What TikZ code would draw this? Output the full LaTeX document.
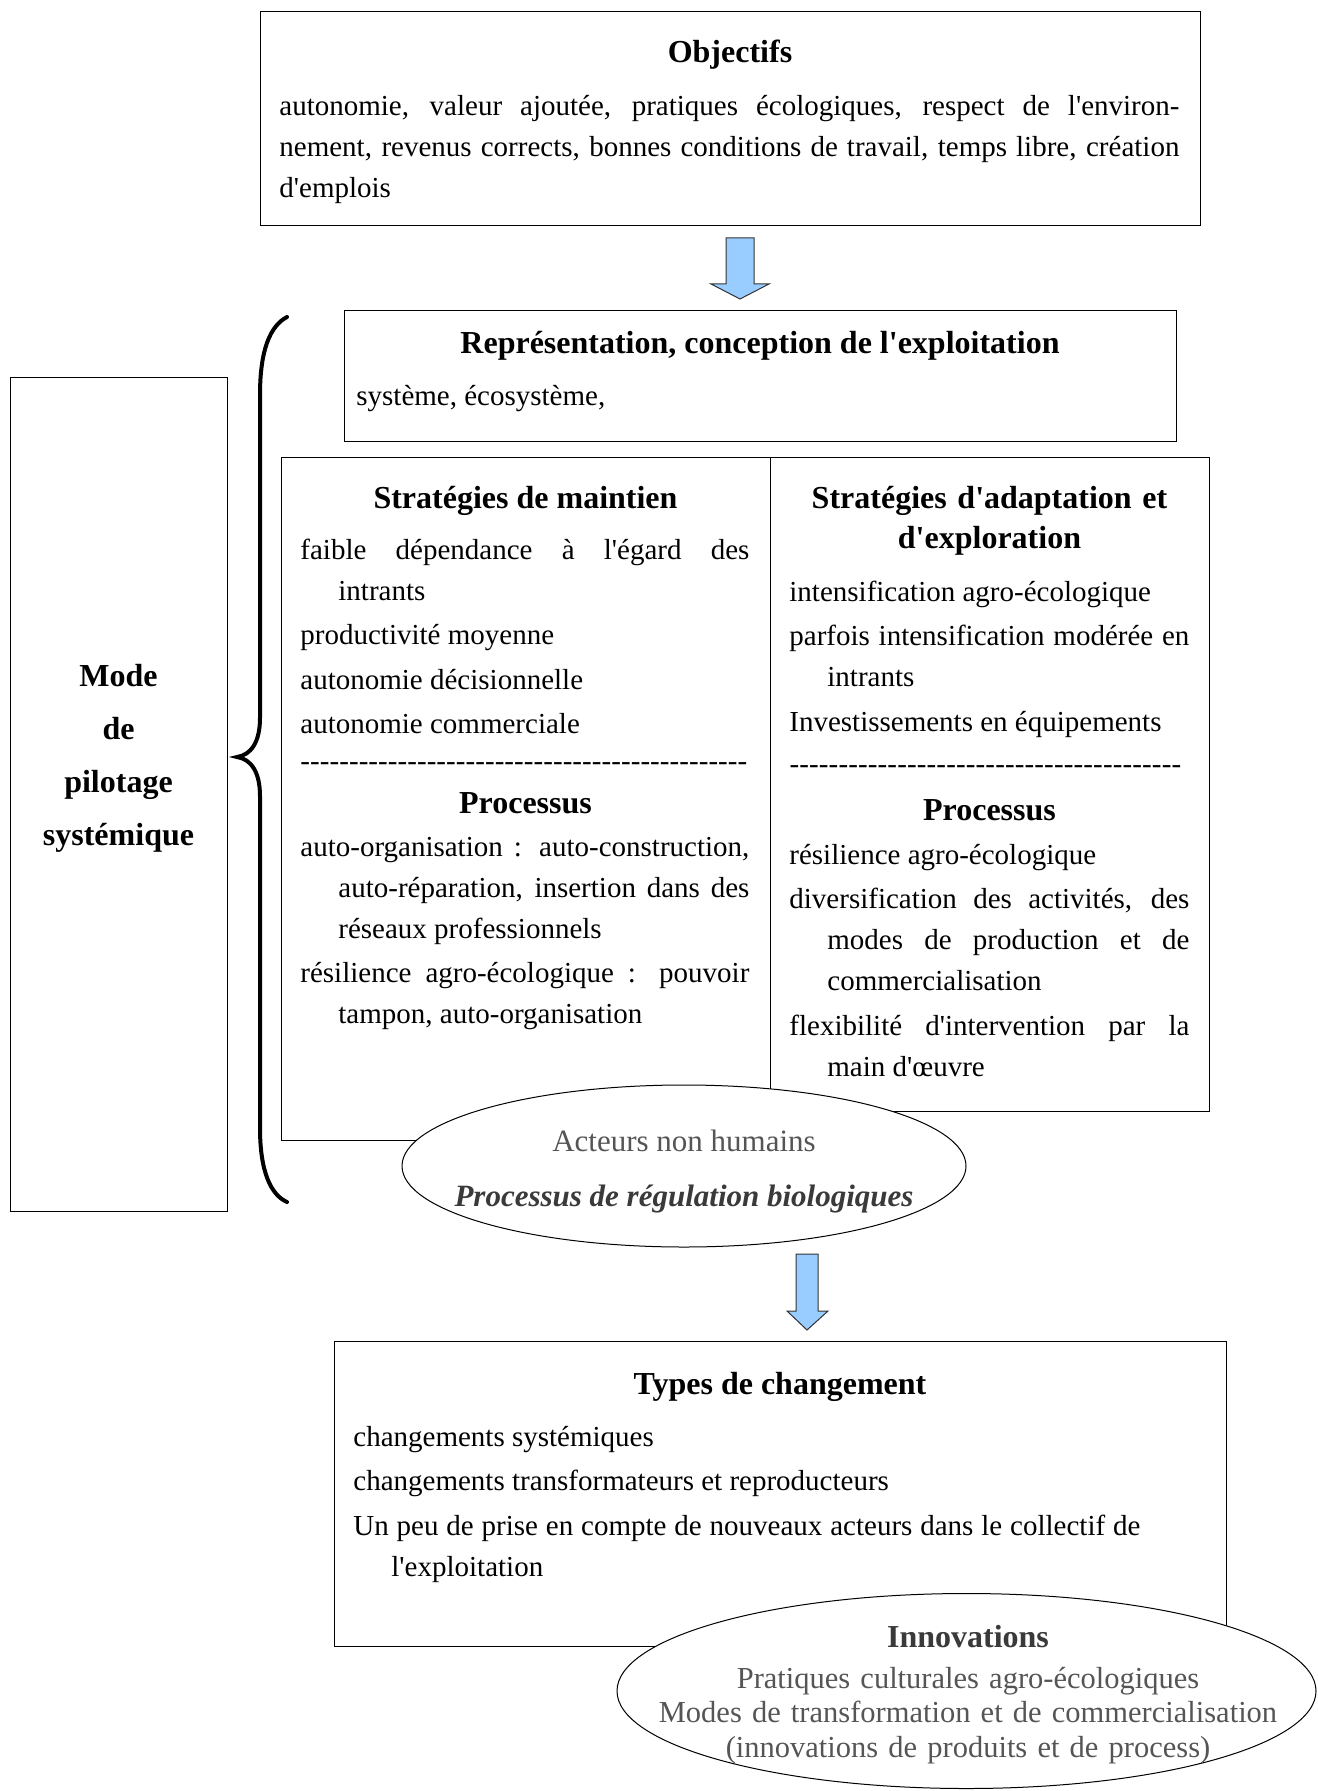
\documentclass[tikz,border=0pt]{standalone}
\usepackage{fontspec}
\newfontfamily\tnr{Liberation Serif}
\usetikzlibrary{shapes.geometric}

\definecolor{arrowblue}{HTML}{99CCFF}
\definecolor{arrowedge}{HTML}{333333}
\definecolor{midgray}{HTML}{555555}
\definecolor{inkgray}{HTML}{3A3A3A}

% one list entry: later lines hang under the first
\newcommand\pitem[1]{\hangindent=19pt\hangafter=1 #1\par}
% a row of hyphens filling a given width
\newcommand\hyphenrow[1]{\hbox to #1{\xleaders\hbox{-}\hfill}}

\tikzset{
  box/.style={draw=black, line width=0.65pt, inner sep=0pt, anchor=north west},
  oval/.style={ellipse, draw=black, line width=0.5pt, fill=white, inner sep=0pt},
  ttl/.style={font=\tnr\fontsize{16}{20}\selectfont\bfseries, inner sep=0pt, anchor=base},
  line/.style={font=\tnr\fontsize{14.5}{20.5}\selectfont, inner sep=0pt, anchor=base west},
  body/.style={line, align=justify,
    execute at begin node={\setlength{\parskip}{1.75pt}\hyphenpenalty=10000
      \exhyphenpenalty=10000 \tolerance=10000 \hbadness=10000 \relax}},
  ovaltext/.style={font=\tnr\fontsize{15.5}{18}\selectfont, inner sep=0pt, anchor=base},
  blockarrow/.style={fill=arrowblue, draw=arrowedge, line width=0.5pt, line join=miter},
  brace/.style={draw=black, line width=2pt, line cap=round},
}

\begin{document}
\begin{tikzpicture}[x=0.5pt, y=-0.5pt]
\useasboundingbox (0,0) rectangle (1317,1791);

% ---------- objectives ----------
\node[box, minimum width=470pt, minimum height=107pt] (obj) at (260,11) {};
\node[ttl] (objT) at (730,63) {Objectifs};
\node[body, text width=450pt] (objB) at (279,116)
  {autonomie, valeur ajoutée, pratiques écologiques, respect de l'environ-\linebreak
   nement, revenus corrects, bonnes conditions de travail, temps libre, création\linebreak
   d'emplois};

% arrow down to the representation box
\draw[blockarrow] (726,238) -- (754,238) -- (754,284) -- (769,284) -- (740,299)
  -- (711,284) -- (726,284) -- cycle;

% ---------- representation ----------
\node[box, minimum width=416pt, minimum height=65.5pt] (rep) at (344,310) {};
\node[ttl] (repT) at (760,354) {Représentation, conception de l'exploitation};
\node[line] (repB) at (356,406) {système, écosystème,};

% ---------- steering mode ----------
\node[box, minimum width=108.5pt, minimum height=417pt] (mode) at (10,377) {};
\node[ttl, text width=100pt, align=center, font=\tnr\fontsize{16}{26.5}\selectfont\bfseries]
  (modeT) at (118.5,686) {Mode\\de\\pilotage\\systémique};

% curly brace
\draw[brace] (287,317) .. controls (270,326) and (260,350) .. (260,395)
  -- (260,718) .. controls (260,742) and (251,755) .. (237,757)
  .. controls (251,759) and (260,772) .. (260,796)
  -- (260,1128) .. controls (260,1172) and (271,1195) .. (287,1202);

% ---------- strategies ----------
\node[box, minimum width=244.5pt, minimum height=341.5pt] (maint) at (281,457) {};
\node[box, minimum width=219.5pt, minimum height=327pt] (adapt) at (770,457) {};

% left column
\node[ttl] (maintT) at (525.5,508) {Stratégies de maintien};
\node[body, text width=224.5pt] (maintL) at (300,559)
  {\pitem{faible dépendance à l'égard des\linebreak intrants}%
   productivité moyenne\par
   autonomie décisionnelle\par
   autonomie commerciale};
\node[line] (maintD) at (300,770) {\hyphenrow{223.5pt}};
\node[ttl] (maintP) at (525.5,813) {Processus};
\node[body, text width=224.5pt] (maintQ) at (300,856)
  {\pitem{auto-organisation : auto-construction,\linebreak auto-réparation, insertion dans des\linebreak réseaux professionnels}%
   \pitem{résilience agro-écologique : pouvoir\linebreak tampon, auto-organisation}};

% right column
\node[ttl, text width=210pt, align=center] (adaptT) at (989.5,508)
  {Stratégies d'adaptation et\\d'exploration};
\node[body, text width=200pt] (adaptL) at (789,601)
  {intensification agro-écologique\par
   \pitem{parfois intensification modérée en\linebreak intrants}%
   Investissements en équipements};
\node[line] (adaptD) at (789,773) {\hyphenrow{196pt}};
\node[ttl] (adaptP) at (989.5,820) {Processus};
\node[body, text width=200pt] (adaptQ) at (789,864)
  {résilience agro-écologique\par
   \pitem{diversification des activités, des\linebreak modes de production et de\linebreak commercialisation}%
   \pitem{flexibilité d'intervention par la\linebreak main d'œuvre}};

% non-human actors
\node[oval, minimum width=282pt, minimum height=81pt] (actors) at (684,1166) {};
\node[ovaltext, text=midgray] (actA) at (684,1151) {Acteurs non humains};
\node[ovaltext, text=inkgray, font=\tnr\fontsize{15.5}{18}\selectfont\bfseries\itshape]
  (actB) at (684,1206) {Processus de régulation biologiques};

% arrow down to the types of change
\draw[blockarrow] (796,1254) -- (818,1254) -- (818,1311) -- (828,1311) -- (807,1330)
  -- (787,1311) -- (796,1311) -- cycle;

% ---------- types of change ----------
\node[box, minimum width=446pt, minimum height=152.5pt] (types) at (334,1341) {};
\node[ttl] (typesT) at (780,1394) {Types de changement};
\node[body, text width=393.5pt] (typesB) at (353,1446)
  {changements systémiques\par
   changements transformateurs et reproducteurs\par
   \pitem{Un peu de prise en compte de nouveaux acteurs dans le collectif de\linebreak l'exploitation}};

% innovations
\node[oval, minimum width=349.5pt, minimum height=97.5pt] (innov) at (966.5,1691) {};
\node[ttl, text=inkgray] (innovT) at (968,1647) {Innovations};
\node[ovaltext, text=midgray, font=\tnr\fontsize{15.25}{17.25}\selectfont,
  text width=340pt, align=center] (innovB) at (968,1688)
  {Pratiques culturales agro-écologiques\\
   Modes de transformation et de commercialisation\\
   (innovations de produits et de process)};
\end{tikzpicture}
\end{document}
